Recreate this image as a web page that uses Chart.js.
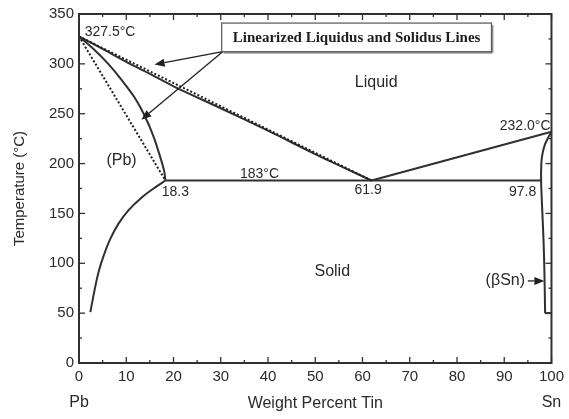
<!DOCTYPE html>
<html>
<head>
<meta charset="utf-8">
<script src="https://cdn.jsdelivr.net/npm/chart.js@4.4.1/dist/chart.umd.min.js"></script>
<style>
  html, body { margin: 0; padding: 0; background: #fff; }
  #wrap { width: 569px; height: 419px; }
</style>
</head>
<body>
<div id="wrap"><canvas id="chart" width="569" height="419"></canvas></div>
<script>
// Pb-Sn phase diagram [wt% Sn, °C]
const liquidusPb = [[0, 327.5], [5, 315], [10, 302], [15, 290], [20, 277.5], [30, 255.5], [40, 233], [50, 209.5], [61.9, 183]];
const solidusPb = [[0, 327.5], [3.4, 313.5], [6.2, 300], [9, 284], [11.8, 266], [13.9, 248], [15.7, 228], [17.1, 208], [18, 193], [18.3, 183]];
const solvusPb = [[18.3, 183], [16.2, 176.4], [13.4, 166.5], [10.5, 153.3], [8.4, 140], [6.7, 125.2], [5.3, 108.7], [4.2, 92.2], [3.4, 75.6], [2.4, 51]];
const eutectic = [[18.3, 183], [97.8, 183]];
const liquidusSn = [[61.9, 183], [100, 232]];
const boundarySn = [[100, 232], [99.3, 226], [98.6, 219], [98.1, 210], [97.85, 200], [97.8, 183], [98.0, 158], [98.3, 125], [98.5, 92], [98.65, 50]];
const boundarySnEnd = [[98.65, 50], [100, 50]];
const linearLiquidus = [[0, 327.5], [61.9, 183]];
const linearSolidus = [[0, 327.5], [18.3, 183]];

const xTickValues = [0, 10, 20, 30, 40, 50, 60, 70, 80, 90, 100];
const yTickValues = [0, 50, 100, 150, 200, 250, 300, 350];

// text placed on the diagram, in data coordinates
const notes = [
  { text: '327.5°C', x: 1.2, y: 332, align: 'left', size: 14 },
  { text: 'Liquid', x: 62.9, y: 281.5, align: 'center', size: 16 },
  { text: '232.0°C', x: 99.8, y: 237.5, align: 'right', size: 14 },
  { text: '(Pb)', x: 9.0, y: 203, align: 'center', size: 16 },
  { text: '183°C', x: 38.2, y: 189.6, align: 'center', size: 14 },
  { text: '18.3', x: 20.4, y: 171.5, align: 'center', size: 14 },
  { text: '61.9', x: 61.2, y: 173, align: 'center', size: 14 },
  { text: '97.8', x: 93.9, y: 171.5, align: 'center', size: 14 },
  { text: 'Solid', x: 53.6, y: 92, align: 'center', size: 16 },
  { text: '(βSn)', x: 94.4, y: 82.3, align: 'right', size: 16 }
];

const calloutText = 'Linearized Liquidus and Solidus Lines';
const calloutBox = { x0: 30.2, x1: 87.3, y0: 340.9, y1: 312.2 };
const arrows = [
  { from: [30.4, 312.2], to: [16.0, 299.3] },
  { from: [30.4, 312.2], to: [13.2, 244] },
  { from: [95.0, 82.3], to: [98.5, 82.3] }
];

function toPoints(arr) {
  return arr.map(p => ({ x: p[0], y: p[1] }));
}

function curve(data, extra) {
  return Object.assign({
    data: toPoints(data),
    showLine: true,
    borderColor: '#303030',
    borderWidth: 2,
    pointRadius: 0,
    tension: 0,
    clip: false
  }, extra || {});
}

const phaseDecor = {
  id: 'phaseDecor',
  afterDraw(chart) {
    const { ctx, chartArea: a, scales } = chart;
    const px = v => scales.x.getPixelForValue(v);
    const py = v => scales.y.getPixelForValue(v);
    const seg = (x0, y0, x1, y1) => {
      ctx.beginPath();
      ctx.moveTo(x0, y0);
      ctx.lineTo(x1, y1);
      ctx.stroke();
    };

    ctx.save();
    ctx.strokeStyle = '#303030';

    // inward ticks on all four sides
    ctx.lineWidth = 1.3;
    for (let v = 0; v <= 100; v += 5) {
      const len = v % 10 === 0 ? 6 : 3;
      const p = px(v);
      seg(p, a.bottom, p, a.bottom - len);
      seg(p, a.top, p, a.top + len);
    }
    for (let v = 0; v <= 350; v += 25) {
      const len = v % 50 === 0 ? 6 : 3;
      const p = py(v);
      seg(a.left, p, a.left + len, p);
      seg(a.right, p, a.right - len, p);
    }

    // frame
    ctx.lineWidth = 2;
    ctx.strokeRect(a.left, a.top, a.right - a.left, a.bottom - a.top);

    // labels inside the plot
    ctx.fillStyle = '#2a2a2a';
    ctx.textBaseline = 'middle';
    notes.forEach(n => {
      ctx.font = n.size + 'px "Liberation Sans", Arial, sans-serif';
      ctx.textAlign = n.align;
      ctx.fillText(n.text, px(n.x), py(n.y));
    });

    // end-member labels under the axis
    ctx.font = '16px "Liberation Sans", Arial, sans-serif';
    ctx.textAlign = 'center';
    ctx.fillText('Pb', px(0), 403);
    ctx.fillText('Sn', px(100), 403);

    // arrows
    ctx.lineWidth = 1.3;
    ctx.fillStyle = '#202020';
    ctx.strokeStyle = '#202020';
    arrows.forEach(ar => {
      const x0 = px(ar.from[0]), y0 = py(ar.from[1]);
      const x1 = px(ar.to[0]), y1 = py(ar.to[1]);
      const ang = Math.atan2(y1 - y0, x1 - x0);
      const hl = 10, hw = 4;
      const bx = x1 - hl * Math.cos(ang), by = y1 - hl * Math.sin(ang);
      seg(x0, y0, bx, by);
      ctx.beginPath();
      ctx.moveTo(x1, y1);
      ctx.lineTo(bx + hw * Math.sin(ang), by - hw * Math.cos(ang));
      ctx.lineTo(bx - hw * Math.sin(ang), by + hw * Math.cos(ang));
      ctx.closePath();
      ctx.fill();
    });

    // callout box
    const bx0 = px(calloutBox.x0), bx1 = px(calloutBox.x1);
    const by0 = py(calloutBox.y0), by1 = py(calloutBox.y1);
    ctx.fillStyle = '#fff';
    ctx.fillRect(bx0, by0, bx1 - bx0, by1 - by0);
    ctx.strokeStyle = '#9a9a9a';
    ctx.lineWidth = 2;
    seg(bx0 + 2, by1 + 1, bx1 + 1, by1 + 1);
    seg(bx1 + 1, by0 + 2, bx1 + 1, by1 + 1);
    ctx.strokeStyle = '#555';
    ctx.lineWidth = 1.2;
    ctx.strokeRect(bx0, by0, bx1 - bx0, by1 - by0);
    ctx.fillStyle = '#1e1e1e';
    ctx.font = 'bold 15px "Liberation Serif", "Times New Roman", serif';
    ctx.textAlign = 'center';
    ctx.fillText(calloutText, (bx0 + bx1) / 2, (by0 + by1) / 2 + 1);

    ctx.restore();
  }
};

new Chart(document.getElementById('chart'), {
  type: 'scatter',
  data: {
    datasets: [
      curve(linearLiquidus, { borderDash: [2, 2], borderColor: '#202020' }),
      curve(linearSolidus, { borderDash: [2, 2], borderColor: '#202020' }),
      curve(liquidusPb, { tension: 0.3 }),
      curve(solidusPb, { tension: 0.3 }),
      curve(solvusPb, { tension: 0.3 }),
      curve(eutectic),
      curve(liquidusSn),
      curve(boundarySn, { tension: 0.3 }),
      curve(boundarySnEnd)
    ]
  },
  options: {
    responsive: false,
    animation: false,
    devicePixelRatio: 1,
    layout: { padding: { top: 10, right: 16, bottom: 0, left: 0 } },
    plugins: { legend: { display: false }, tooltip: { enabled: false } },
    scales: {
      x: {
        type: 'linear',
        min: 0,
        max: 100,
        afterBuildTicks: s => { s.ticks = xTickValues.map(v => ({ value: v })); },
        afterFit: s => { s.height = 56; },
        grid: { display: false, drawTicks: false },
        border: { display: false },
        ticks: {
          padding: 5,
          color: '#2a2a2a',
          font: { family: '"Liberation Sans", Arial, sans-serif', size: 15 },
          maxRotation: 0
        },
        title: {
          display: true,
          text: 'Weight Percent Tin',
          color: '#2a2a2a',
          font: { family: '"Liberation Sans", Arial, sans-serif', size: 16 },
          padding: { top: 0, bottom: 6 }
        }
      },
      y: {
        type: 'linear',
        min: 0,
        max: 350,
        afterBuildTicks: s => { s.ticks = yTickValues.map(v => ({ value: v })); },
        afterFit: s => { s.width = 79; },
        grid: { display: false, drawTicks: false },
        border: { display: false },
        ticks: {
          padding: 5,
          color: '#2a2a2a',
          font: { family: '"Liberation Sans", Arial, sans-serif', size: 15 }
        },
        title: {
          display: true,
          text: 'Temperature (°C)',
          color: '#2a2a2a',
          font: { family: '"Liberation Sans", Arial, sans-serif', size: 15 },
          padding: { top: 11, bottom: 0 }
        }
      }
    }
  },
  plugins: [phaseDecor]
});
</script>
</body>
</html>
